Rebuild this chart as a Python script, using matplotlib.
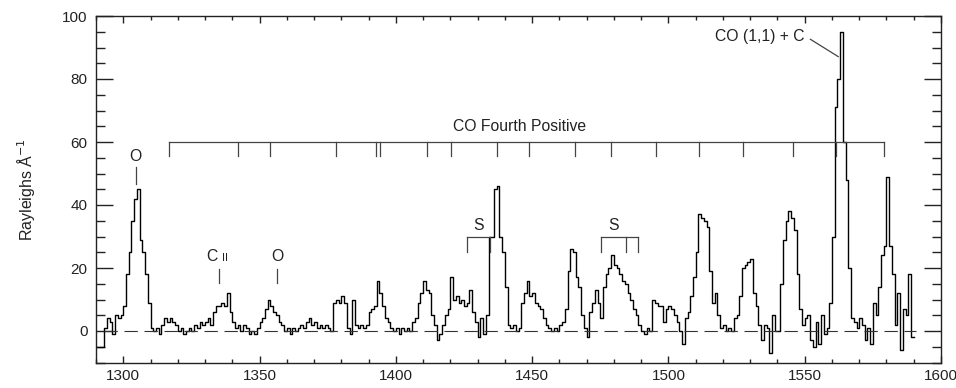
import numpy as np
import matplotlib
matplotlib.use("Agg")
import matplotlib.pyplot as plt
from matplotlib.ticker import MultipleLocator

plt.rcParams['font.family'] = ['Liberation Sans', 'DejaVu Sans']

# ---- data: 1 Angstrom bins starting at 1290 ----
wl_start = 1290
flux = [
    -5, -5, -5, 1, 4, 3, -1, 5, 4, 5,          # 1290-1299
    8, 18, 25, 35, 42, 45, 29, 25, 18, 9,      # 1300-1309
    1, 0, 1, -1, 2, 4, 3, 4, 3, 2,             # 1310-1319
    0, 1, -1, 0, 1, 0, 2, 1, 3, 2,             # 1320-1329
    3, 4, 2, 6, 8, 8, 9, 8, 12, 6,             # 1330-1339
    3, 1, 2, 0, 2, 1, -1, 0, -1, 1,            # 1340-1349
    3, 4, 7, 10, 8, 6, 5, 3, 2, 0,             # 1350-1359
    1, -1, 1, 0, 1, 2, 1, 3, 4, 2,             # 1360-1369
    3, 1, 2, 1, 2, 1, 0, 9, 10, 9,             # 1370-1379
    11, 9, 1, -1, 10, 2, 1, 2, 1, 2,           # 1380-1389
    6, 7, 8, 16, 12, 8, 4, 3, 1, 0,            # 1390-1399
    1, -1, 1, 0, 1, 0, 3, 4, 9, 12,            # 1400-1409
    16, 13, 12, 5, 2, -3, -1, 2, 5, 7,         # 1410-1419
    17, 10, 11, 9, 10, 8, 9, 13, 6, 3,         # 1420-1429
    -2, 4, -1, 5, 30, 30, 45, 46, 30, 25,      # 1430-1439
    14, 2, 1, 2, 0, 1, 9, 12, 16, 11,          # 1440-1449
    12, 9, 8, 7, 4, 2, 1, 0, 1, 0,             # 1450-1459
    2, 3, 7, 19, 26, 25, 17, 14, 5, 1,         # 1460-1469
    -2, 6, 9, 13, 9, 4, 14, 18, 20, 24,        # 1470-1479
    21, 20, 18, 16, 15, 12, 10, 7, 5, 2,       # 1480-1489
    0, -1, 1, 0, 10, 9, 8, 8, 3, 7,            # 1490-1499
    8, 7, 5, 3, 0, -4, 4, 6, 11, 17,           # 1500-1509
    25, 37, 36, 35, 33, 19, 9, 12, 5, 1,       # 1510-1519
    2, 0, 1, 0, 4, 5, 11, 20, 21, 22,          # 1520-1529
    23, 12, 8, 2, -3, 2, 1, -7, 5, 0,          # 1530-1539
    0, 15, 29, 35, 38, 36, 32, 18, 7, 2,       # 1540-1549
    4, 5, -3, -5, 3, -4, 5, -1, 1, 9,          # 1550-1559
    30, 71, 80, 95, 60, 48, 20, 4, 3, 1,       # 1560-1569
    4, 2, -3, 1, -4, 9, 5, 14, 24, 27,         # 1570-1579
    49, 27, 18, 2, 12, -6, 7, 5, 18, -2,       # 1580-1589
]

band_ticks = [1316.9, 1342.1, 1353.9, 1378.2, 1392.6, 1394.2, 1411.4, 1420.3,
              1437.2, 1448.8, 1465.7, 1478.9, 1495.5, 1511.1, 1527.5, 1545.7,
              1561.3, 1579.0]
s1_ticks = [1426.0, 1434.6]
s2_ticks = [1475.2, 1484.3, 1488.8]

wl = wl_start + np.arange(len(flux) + 1)
fl = np.array(flux + [flux[-1]], dtype=float)

fig = plt.figure(figsize=(9.56, 3.88), dpi=100)
ax = fig.add_axes([96/956, 1-362.5/388, 845/956, 346.5/388])

ax.plot(wl, fl, drawstyle='steps-post', color='black', lw=1.0)
ax.plot([1293, 1591], [0, 0], color='#333333', lw=0.8, dashes=(12, 6))

ax.set_xlim(1290, 1600)
ax.set_ylim(-10, 100)
ax.xaxis.set_major_locator(MultipleLocator(50))
ax.xaxis.set_minor_locator(MultipleLocator(10))
ax.yaxis.set_major_locator(MultipleLocator(20))
ax.yaxis.set_minor_locator(MultipleLocator(5))
ax.tick_params(axis='both', which='both', direction='in', top=True, right=True,
               width=1.0, colors='#222222', labelsize=11)
ax.tick_params(axis='x', which='major', length=5, pad=5)
ax.tick_params(axis='x', which='minor', length=3)
ax.tick_params(axis='y', which='major', length=12, pad=6)
ax.tick_params(axis='y', which='minor', length=6.5)
ax.tick_params(axis='y', right=True, labelright=False)
for sp in ax.spines.values():
    sp.set_linewidth(1.0)
    sp.set_color('#222222')

ax.set_ylabel('Rayleighs Å$^{-1}$', fontsize=11.5, color='#222222')
ax.yaxis.set_label_coords(-0.07, 0.5)

tc = '#222222'
lc = '#444444'
fs = 11.3
# CO Fourth Positive bracket
ax.plot([band_ticks[0], band_ticks[-1]], [60, 60], color=lc, lw=0.9)
for t in band_ticks:
    ax.plot([t, t], [60, 55.5], color=lc, lw=0.9)
ax.text(1445.4, 64.8, 'CO Fourth Positive', ha='center', va='center', fontsize=fs, color=tc)

# O line 1304
ax.text(1304.6, 55.3, 'O', ha='center', va='center', fontsize=fs, color=tc)
ax.plot([1304.6, 1304.6], [52.1, 46.8], color=lc, lw=0.9)
# C II
ax.text(1334.6, 23.5, 'C', ha='right', va='center', fontsize=fs, color=tc)
ax.text(1336.2, 23.3, 'II', ha='left', va='center', fontsize=8, color=tc)
ax.plot([1335.3, 1335.3], [19.8, 15.1], color=lc, lw=0.9)
# O 1356
ax.text(1356.4, 23.5, 'O', ha='center', va='center', fontsize=fs, color=tc)
ax.plot([1356.4, 1356.4], [19.8, 15.1], color=lc, lw=0.9)

# S bracket 1
ax.plot([s1_ticks[0], s1_ticks[-1]], [30, 30], color=lc, lw=0.9)
for t in s1_ticks:
    ax.plot([t, t], [30, 25.1], color=lc, lw=0.9)
ax.text(1430.2, 33.4, 'S', ha='center', va='center', fontsize=fs, color=tc)
# S bracket 2
ax.plot([s2_ticks[0], s2_ticks[-1]], [30, 30], color=lc, lw=0.9)
for t in s2_ticks:
    ax.plot([t, t], [30, 25.1], color=lc, lw=0.9)
ax.text(1479.8, 33.6, 'S', ha='center', va='center', fontsize=fs, color=tc)

# CO (1,1) + C
ax.text(1549.8, 93.6, 'CO (1,1) + C', ha='right', va='center', fontsize=fs, color=tc)
ax.plot([1552.1, 1562.3], [92.6, 87.1], color=lc, lw=0.9)

fig.savefig('out.png', dpi=100)
